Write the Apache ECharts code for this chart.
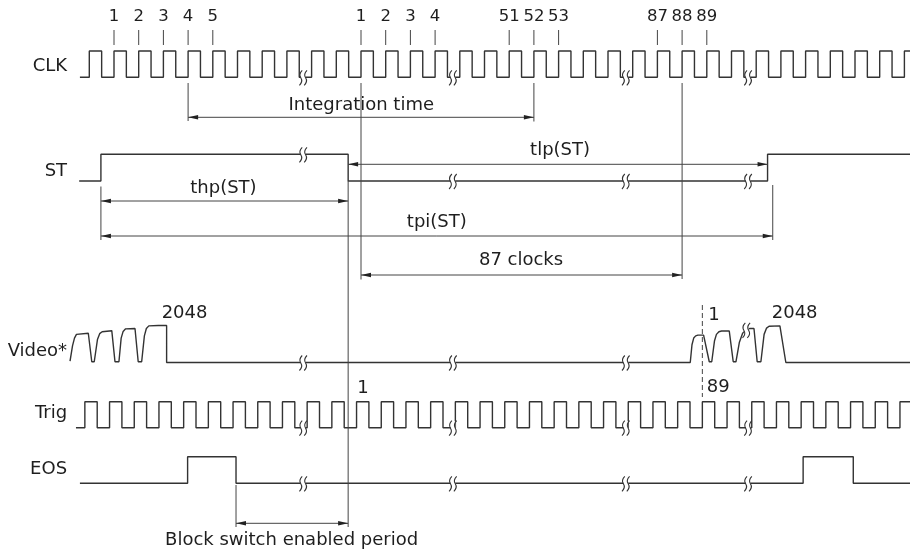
<!DOCTYPE html>
<html><head><meta charset="utf-8">
<script src="https://cdn.jsdelivr.net/npm/echarts@6/dist/echarts.min.js"></script>
<style>html,body{margin:0;padding:0;background:#fff}#c{width:910px;height:556px}</style>
</head><body><div id="c"></div>
<script>
// ================= DATA (time unit = one CLK period, t=0 at first CLK rising edge) =================
const signalNames = ['CLK', 'ST', 'Video*', 'Trig', 'EOS'];

const clkRise = [0,1,2,3,4,5,6,7,8,9,10,11,12,13,14,15,16,17,18,19,20,21,22,23,24,25,26,27,28,29,30,31,32,33];
const clkHighWidth = 0.5;
const trigRise = [-0.18,0.82,1.82,2.82,3.82,4.82,5.82,6.82,7.82,8.82,9.82,10.82,11.82,12.82,13.82,14.82,15.82,16.82,17.82,18.82,19.82,20.82,21.82,22.82,23.82,24.82,25.82,26.82,27.82,28.82,29.82,30.82,31.82,32.82];
const trigHighWidth = 0.5;
const stEdges = [0.47, 10.48, 27.46];          // ST toggles (starts low)
const eosEdges = [3.98, 5.94, 28.9, 30.93];     // EOS toggles (starts low)
const videoPoints = [
  [-0.78,0.04],[-0.68,0.45],[-0.6,0.66],[-0.52,0.76],[-0.44,0.79],[-0.04,0.79],[0.10,0.02],[0.20,0.02],
  [0.33,0.62],[0.42,0.78],[0.52,0.83],[0.91,0.86],[1.04,0.02],[1.20,0.02],[1.29,0.66],[1.37,0.84],[1.47,0.91],[1.85,0.92],
  [1.98,0.02],[2.12,0.02],[2.23,0.72],[2.31,0.92],[2.41,0.99],[2.79,1.0],[3.13,1.0],[3.13,0],
  [24.33,0],[24.40,0.48],[24.47,0.66],[24.55,0.72],[24.64,0.74],[24.87,0.74],[25.10,0.02],[25.20,0.02],
  [25.31,0.58],[25.39,0.76],[25.49,0.83],[25.60,0.85],[25.91,0.85],[26.07,0.02],[26.18,0.02],[26.32,0.55],
  [26.45,0.79],[26.59,0.88],[26.75,0.92],[26.91,0.92],[27.04,0.02],[27.19,0.02],[27.32,0.76],
  [27.42,0.93],[27.52,0.98],[27.96,0.99],[28.04,0.99],[28.2,0],[33.23,0]
];
const signalStart = [-0.38, -0.41, -0.78, -0.54, -0.38];
const signalEnd = 33.23;
const breakTimes = [8.66, 14.72, 21.72, 26.67];
const videoBurstBreak = [26.6, 0.88];

const clkTickTimes = [1,2,3,4,5,11,12,13,14,17,18,19,23,24,25];
const clkTickLabels = ['1','2','3','4','5','1','2','3','4','51','52','53','87','88','89'];

const integrationTime = [4, 18];
const tlpST = [10.48, 27.46];
const thpST = [0.47, 10.48];
const tpiST = [0.47, 27.67];
const clocks87 = [11, 24];
const blockSwitch = [5.94, 10.48];
const videoStartT = 24.82;   // Trig pulse 89 -> Video pixel 1

// ================= LAYOUT =================
const PX0 = 89.3, PERIOD_PX = 24.7, W = 910, H = 556;
const rows = [
  {low: 77.3,  amp: 26.3, labelY: 66},
  {low: 181,   amp: 26.7, labelY: 171.7},
  {low: 362.5, amp: 37,   labelY: 351.7},
  {low: 427.7, amp: 26,   labelY: 413.3},
  {low: 483.3, amp: 26.6, labelY: 469.3}
];
const LINE = '#333', GUIDE = '#444', TEXT = '#1e1e1e';
const FONT = '"DejaVu Sans", Verdana, sans-serif';

function yOf(row, lvl) { return rows[row].low - lvl * rows[row].amp; }
function clockEdges(rises, w) { const e = []; rises.forEach(r => { e.push(r, r + w); }); return e; }
function digital(row, edges) {
  const s = signalStart[row];
  let lvl = 0;
  const pts = [[s, yOf(row, 0)]];
  edges.filter(e => e > s && e < signalEnd).forEach(e => {
    pts.push([e, yOf(row, lvl)]); lvl = 1 - lvl; pts.push([e, yOf(row, lvl)]);
  });
  pts.push([signalEnd, yOf(row, lvl)]);
  return pts;
}
const waves = [
  digital(0, clockEdges(clkRise, clkHighWidth)),
  digital(1, stEdges),
  videoPoints.map(p => [p[0], yOf(2, p[1])]),
  digital(3, clockEdges(trigRise, trigHighWidth)),
  digital(4, eosEdges)
];

function levelAt(pts, t) {
  for (let i = pts.length - 1; i >= 0; i--) if (pts[i][0] <= t) return pts[i][1];
  return pts[0][1];
}
const breaks = [];
[0, 1, 3, 4].forEach(r => breakTimes.forEach(t => breaks.push([t, levelAt(waves[r], t)])));
breakTimes.slice(0, 3).forEach(t => breaks.push([t, yOf(2, 0)]));
breaks.push([videoBurstBreak[0], yOf(2, videoBurstBreak[1])]);

// annotations
const ann = [];
clkTickTimes.forEach((t, i) => {
  ann.push({k: 'v', t, y1: 30, y2: 45});
  ann.push({k: 'txt', t, y: 17, text: clkTickLabels[i], size: 16.5});
});
ann.push({k: 'v', t: integrationTime[0], y1: 83, y2: 121});
ann.push({k: 'v', t: integrationTime[1], y1: 83, y2: 121.5});
ann.push({k: 'v', t: clocks87[0], y1: 83, y2: 279.5});
ann.push({k: 'v', t: clocks87[1], y1: 83, y2: 279});
ann.push({k: 'v', t: thpST[0], y1: 186.5, y2: 240});
ann.push({k: 'v', t: thpST[1], y1: 181, y2: 527});
ann.push({k: 'v', t: tpiST[1], y1: 185, y2: 240});
ann.push({k: 'v', t: blockSwitch[0], y1: 485, y2: 527});
ann.push({k: 'v', t: videoStartT, y1: 305, y2: 397, dash: true});
ann.push({k: 'a', t1: integrationTime[0], t2: integrationTime[1], y: 117.3});
ann.push({k: 'a', t1: tlpST[0], t2: tlpST[1], y: 164.3});
ann.push({k: 'a', t1: thpST[0], t2: thpST[1], y: 201});
ann.push({k: 'a', t1: tpiST[0], t2: tpiST[1], y: 236});
ann.push({k: 'a', t1: clocks87[0], t2: clocks87[1], y: 275});
ann.push({k: 'a', t1: blockSwitch[0], t2: blockSwitch[1], y: 523.3});
ann.push({k: 'txt', t: 11.01, y: 105, text: 'Integration time'});
ann.push({k: 'txt', t: 19.06, y: 150, text: 'tlp(ST)'});
ann.push({k: 'txt', t: 5.43, y: 188, text: 'thp(ST)'});
ann.push({k: 'txt', t: 14.07, y: 222, text: 'tpi(ST)'});
ann.push({k: 'txt', t: 17.48, y: 260, text: '87 clocks'});
ann.push({k: 'txt', t: 8.19, y: 540, text: 'Block switch enabled period'});
ann.push({k: 'txt', t: 2.93, y: 313, text: '2048', align: 'left'});
ann.push({k: 'txt', t: 27.63, y: 313, text: '2048', align: 'left'});
ann.push({k: 'txt', t: 25.06, y: 315, text: '1', align: 'left'});
ann.push({k: 'txt', t: 25.0, y: 387, text: '89', align: 'left'});
ann.push({k: 'txt', t: 10.85, y: 388, text: '1', align: 'left'});
signalNames.forEach((n, i) => ann.push({k: 'txt', t: -0.9, y: rows[i].labelY, text: n, align: 'right'}));

function renderAnn(params, api) {
  const it = ann[params.dataIndex];
  if (it.k === 'v') {
    const a = api.coord([it.t, it.y1]), b = api.coord([it.t, it.y2]);
    return {type: 'line', shape: {x1: a[0], y1: a[1], x2: b[0], y2: b[1]},
      style: {stroke: GUIDE, lineWidth: 1, lineDash: it.dash ? [5, 3] : null}};
  }
  if (it.k === 'a') {
    const a = api.coord([it.t1, it.y]), b = api.coord([it.t2, it.y]);
    const L = 10, h = 2.3;
    return {type: 'group', children: [
      {type: 'line', shape: {x1: a[0], y1: a[1], x2: b[0], y2: b[1]}, style: {stroke: GUIDE, lineWidth: 1}},
      {type: 'polygon', shape: {points: [[a[0], a[1]], [a[0] + L, a[1] - h], [a[0] + L, a[1] + h]]}, style: {fill: '#222'}},
      {type: 'polygon', shape: {points: [[b[0], b[1]], [b[0] - L, b[1] - h], [b[0] - L, b[1] + h]]}, style: {fill: '#222'}}
    ]};
  }
  const p = api.coord([it.t, it.y]);
  return {type: 'text', x: p[0], y: p[1], style: {text: it.text, fill: TEXT,
    font: (it.size || 18) + 'px ' + FONT, align: it.align || 'center', verticalAlign: 'middle'}};
}

function renderBreak(params, api) {
  const p = api.coord([api.value(0), api.value(1)]);
  const x = p[0], y = p[1] + 0.5;
  const s = dx => ({type: 'path', shape: {pathData:
    `M${x + dx + 1.4},${y - 7.5} Q${x + dx - 2.4},${y - 3.7} ${x + dx},${y} Q${x + dx + 2.4},${y + 3.7} ${x + dx - 1.4},${y + 7.5}`},
    style: {stroke: LINE, lineWidth: 1.1, fill: null}});
  return {type: 'group', children: [
    {type: 'rect', shape: {x: x - 2.4, y: y - 7, width: 4.8, height: 14}, style: {fill: '#fff'}},
    s(-2.4), s(2.4)
  ]};
}

const series = waves.map(w => ({
  type: 'line', data: w, symbol: 'none', silent: true, z: 2,
  lineStyle: {color: LINE, width: 1.4}
}));
series.push({type: 'custom', renderItem: renderBreak, data: breaks, z: 4, silent: true});
series.push({type: 'custom', renderItem: renderAnn, data: ann.map((a, i) => [i, 0]), z: 5, silent: true});

const chart = echarts.init(document.getElementById('c'), null, {renderer: 'canvas'});
chart.setOption({
  animation: false,
  backgroundColor: '#fff',
  grid: {left: 0, right: 0, top: 0, bottom: 0},
  xAxis: {type: 'value', min: -PX0 / PERIOD_PX, max: (W - PX0) / PERIOD_PX, show: false},
  yAxis: {type: 'value', min: 0, max: H, inverse: true, show: false},
  series
});
</script></body></html>
